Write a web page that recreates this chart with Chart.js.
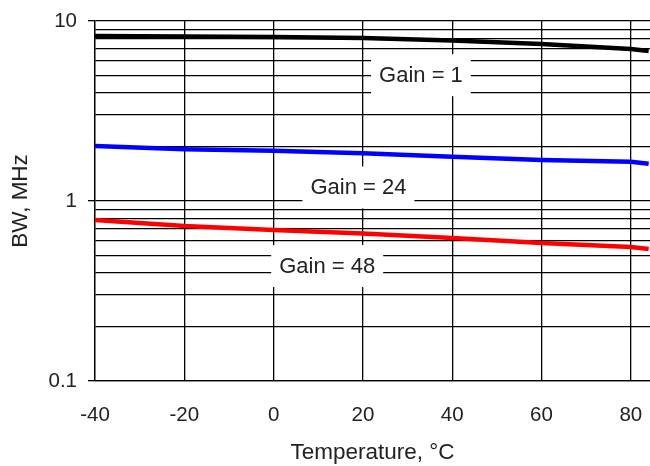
<!DOCTYPE html>
<html>
<head>
<meta charset="utf-8">
<title>BW vs Temperature</title>
<script src="https://cdn.jsdelivr.net/npm/chart.js@4.4.1/dist/chart.umd.min.js"></script>
<style>
  html, body { margin: 0; padding: 0; background: #fff; overflow: hidden; }
  canvas { display: block; }
</style>
</head>
<body>
<canvas id="bwChart" width="650" height="466"></canvas>
<script>
// Temperatures (°C) the curves were read at
const temps = [-40, -20, 0, 20, 40, 60, 80, 84];

// Bandwidth (MHz) per gain setting
const bwGain1  = [8.25, 8.20, 8.15, 8.05, 7.79, 7.45, 6.99, 6.81];
const bwGain24 = [2.02, 1.94, 1.90, 1.84, 1.76, 1.69, 1.65, 1.61];
const bwGain48 = [0.784, 0.726, 0.69, 0.66, 0.623, 0.584, 0.555, 0.541];

// Axis ticks
const xTicks = [-40, -20, 0, 20, 40, 60, 80];
const yTicks = [0.1, 0.2, 0.3, 0.4, 0.5, 0.6, 0.7, 0.8, 0.9,
                1, 2, 3, 4, 5, 6, 7, 8, 9, 10];
const yLabelled = [0.1, 1, 10];

// In-plot curve labels
const gainNames = ['Gain = 1', 'Gain = 24', 'Gain = 48'];
const gainNameTemp = [33, 19, 12];
const gainNameBw = [5.0, 1.19, 0.435];

const FONT = '"Liberation Sans", Arial, sans-serif';
Chart.defaults.font.family = FONT;

function toPoints(ys) {
    return temps.map((t, i) => ({ x: t, y: ys[i] }));
}

// White boxes behind the curve labels, hiding the grid like the original
const gainLabelPlugin = {
    id: 'gainLabels',
    beforeDatasetsDraw(chart) {
        const ctx = chart.ctx;
        const xs = chart.scales.x;
        const ys = chart.scales.y;
        ctx.save();
        ctx.font = '22px ' + FONT;
        ctx.textAlign = 'center';
        ctx.textBaseline = 'middle';
        gainNames.forEach((name, i) => {
            const px = xs.getPixelForValue(gainNameTemp[i]);
            const py = ys.getPixelForValue(gainNameBw[i]);
            const w = ctx.measureText(name).width + 16;
            const h = 42;
            ctx.fillStyle = '#fff';
            ctx.fillRect(px - w / 2, py - h / 2, w, h);
            ctx.fillStyle = '#222';
            ctx.fillText(name, px, py + 1);
        });
        ctx.restore();
    }
};

const lineStyle = {
    borderWidth: 4.5,
    pointRadius: 0,
    tension: 0,
    fill: false
};

new Chart(document.getElementById('bwChart'), {
    type: 'line',
    data: {
        datasets: [
            Object.assign({ label: 'Gain = 1', data: toPoints(bwGain1), borderColor: '#000000' }, lineStyle),
            Object.assign({ label: 'Gain = 24', data: toPoints(bwGain24), borderColor: '#0000ff' }, lineStyle),
            Object.assign({ label: 'Gain = 48', data: toPoints(bwGain48), borderColor: '#ff0000' }, lineStyle)
        ]
    },
    options: {
        responsive: false,
        animation: false,
        layout: { padding: { top: 21, right: 0, bottom: 0, left: 0 } },
        plugins: {
            legend: { display: false },
            tooltip: { enabled: false }
        },
        scales: {
            x: {
                type: 'linear',
                min: -40,
                max: 84.3,
                afterBuildTicks: axis => { axis.ticks = xTicks.map(v => ({ value: v })); },
                afterFit: axis => {
                    axis.height = 85;
                    axis.paddingLeft = 0;
                    axis.paddingRight = 0;
                },
                ticks: {
                    color: '#222',
                    font: { size: 20.5 },
                    padding: 22,
                    maxRotation: 0,
                    autoSkip: false
                },
                grid: { color: '#000', lineWidth: 1.3, drawTicks: false },
                border: { color: '#000', width: 1.3 },
                title: {
                    display: true,
                    text: 'Temperature, °C',
                    color: '#222',
                    font: { size: 22.5 },
                    padding: { top: 0, bottom: 0 }
                }
            },
            y: {
                type: 'logarithmic',
                min: 0.1,
                max: 10,
                afterBuildTicks: axis => {
                    axis.ticks = yTicks.map(v => ({ value: v, major: yLabelled.includes(v) }));
                },
                afterFit: axis => {
                    axis.width = 95;
                    axis.paddingTop = 0;
                    axis.paddingBottom = 0;
                },
                ticks: {
                    color: '#222',
                    font: { size: 20.5 },
                    padding: 11,
                    autoSkip: false,
                    callback: v => yLabelled.includes(v) ? String(v) : ''
                },
                grid: {
                    color: '#000',
                    lineWidth: 1.3,
                    tickLength: 7,
                    tickColor: c => (c.tick && yLabelled.includes(c.tick.value)) ? '#000' : 'rgba(0,0,0,0)'
                },
                border: { color: '#000', width: 1.3 },
                title: {
                    display: true,
                    text: 'BW, MHz',
                    color: '#222',
                    font: { size: 22.5 },
                    padding: { top: 7, bottom: 0 }
                }
            }
        }
    },
    plugins: [gainLabelPlugin]
});
</script>
</body>
</html>
